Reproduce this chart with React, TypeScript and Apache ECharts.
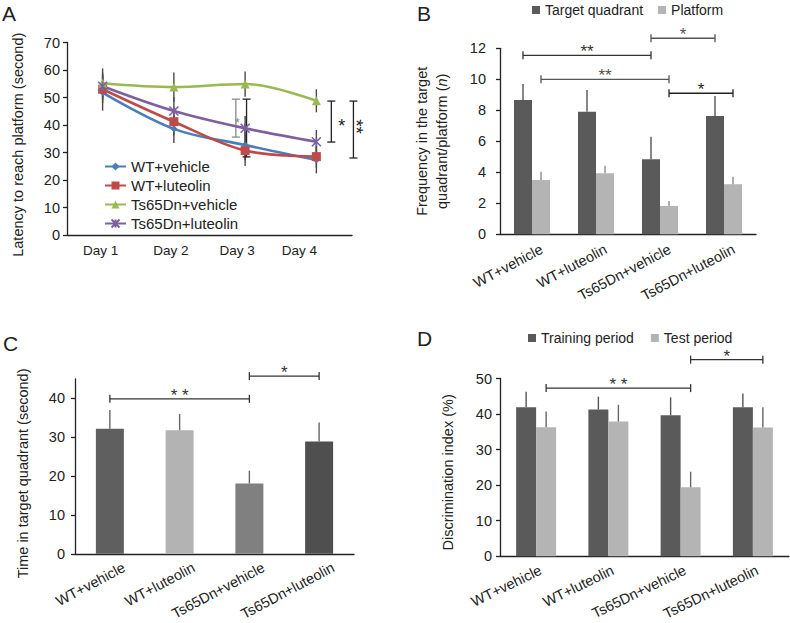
import React, { useEffect, useRef } from "react";
import * as echarts from "echarts";

const FONT = "'Liberation Sans', Arial, Helvetica, sans-serif";
const TXT = "#222";

// ---------- categories ----------
const dayLabels = ["Day 1", "Day 2", "Day 3", "Day 4"];
const groupLabels = ["WT+vehicle", "WT+luteolin", "Ts65Dn+vehicle", "Ts65Dn+luteolin"];

// ---------- Panel A: latency (second) ----------
const latWTVehicle = [51.8, 38.6, 32.7, 27.3];
const latWTLuteolin = [53.0, 41.2, 30.7, 28.5];
const latTsVehicle = [55.2, 53.8, 54.9, 48.8];
const latTsLuteolin = [54.1, 45.1, 38.8, 33.9];
const latErrWTVehicle = [6.6, 5.1, 7.6, 4.9];
const latErrWTLuteolin = [5.0, 5.0, 3.5, 4.0];
const latErrTsVehicle = [5.4, 5.3, 4.6, 4.2];
const latErrTsLuteolin = [5.0, 5.0, 4.5, 4.3];

// ---------- Panel B: frequency ----------
const targetFreq = [8.67, 7.91, 4.84, 7.63];
const targetFreqErr = [1.03, 1.4, 1.46, 1.29];
const platformFreq = [3.51, 3.94, 1.83, 3.23];
const platformFreqErr = [0.53, 0.49, 0.32, 0.49];

// ---------- Panel C: time in target quadrant ----------
const timeTarget = [32.2, 31.8, 18.1, 28.9];
const timeTargetErr = [4.8, 4.2, 3.3, 4.9];
const timeColors = ["#5f5f5f", "#b3b3b3", "#808080", "#4f4f4f"];

// ---------- Panel D: discrimination index ----------
const trainingDI = [41.9, 41.3, 39.7, 41.9];
const trainingDIErr = [4.4, 3.6, 5.0, 3.9];
const testDI = [36.3, 37.9, 19.4, 36.2];
const testDIErr = [4.4, 4.7, 4.4, 5.7];

// ---------- significance annotations ----------
// side: -1 = first bar of the group, +1 = second bar, 0 = group centre
const bracketsB = [
  { from: 0, fromSide: -1, to: 2, toSide: -1, value: 11.55, label: "**", color: "#333" },
  { from: 0, fromSide: 1, to: 2, toSide: 1, value: 10.0, label: "**", color: "#555" },
  { from: 2, fromSide: -1, to: 3, toSide: -1, value: 12.65, label: "*", color: "#555" },
  { from: 2, fromSide: 1, to: 3, toSide: 1, value: 9.1, label: "*", color: "#222" },
];
const bracketsC = [
  { from: 0, fromSide: 0, to: 2, toSide: 0, value: 39.9, label: "* *", color: "#333" },
  { from: 2, fromSide: 0, to: 3, toSide: 0, value: 45.75, label: "*", color: "#333" },
];
const bracketsD = [
  { from: 0, fromSide: 1, to: 2, toSide: 1, value: 47.3, label: "* *", color: "#333" },
  { from: 2, fromSide: 1, to: 3, toSide: 1, value: 55.3, label: "*", color: "#333" },
];
// vertical brackets in panel A (shift = fraction of a category band; stars = number of stacked asterisks)
const bracketsA = [
  { day: 2, shift: -0.13, low: 35.6, high: 49.4, stars: 1, color: "#888" },
  { day: 2, shift: 0.02, low: 28.4, high: 49.4, stars: 0, color: "#222" },
  { day: 3, shift: 0.21, low: 33.8, high: 48.7, stars: 1, color: "#222" },
  { day: 3, shift: 0.52, low: 28.0, high: 48.7, stars: 2, color: "#222" },
];

const axisLineStyle = { color: "#222", width: 1.3 };

function catAxis(gridIndex: number, data: string[], labelExtra: any) {
  return {
    gridIndex,
    type: "category",
    data,
    axisLine: { lineStyle: axisLineStyle },
    axisTick: { length: 4, lineStyle: axisLineStyle },
    axisLabel: { color: TXT, fontSize: 14.5, fontFamily: FONT, interval: 0, ...labelExtra },
    splitLine: { show: false },
  };
}

function valAxis(gridIndex: number, extra: any) {
  return {
    gridIndex,
    type: "value",
    nameLocation: "middle",
    nameRotate: 90,
    axisLine: { show: true, lineStyle: axisLineStyle },
    axisTick: { show: true, length: 4, lineStyle: axisLineStyle },
    splitLine: { show: false },
    ...extra,
    axisLabel: { color: TXT, fontSize: 14.5, fontFamily: FONT, ...(extra.axisLabel || {}) },
    nameTextStyle: { color: TXT, fontSize: 14.5, fontFamily: FONT, ...(extra.nameTextStyle || {}) },
  };
}

function errorSeries(idx: number, means: number[], errs: number[], offset: number, color: string, both: boolean) {
  return {
    type: "custom",
    xAxisIndex: idx,
    yAxisIndex: idx,
    silent: true,
    z: 4,
    data: means.map((m, i) => [i, both ? m - errs[i] : m, m + errs[i]]),
    encode: { x: 0, y: [1, 2] },
    renderItem: (params: any, api: any) => {
      const p1 = api.coord([api.value(0), api.value(1)]);
      const p2 = api.coord([api.value(0), api.value(2)]);
      const x = p1[0] + offset;
      return {
        type: "line",
        shape: { x1: x, y1: p1[1], x2: x, y2: p2[1] },
        style: { stroke: color, lineWidth: 1.4 },
      };
    },
  };
}

function hBracketSeries(idx: number, brackets: any[], half: number) {
  return {
    type: "custom",
    xAxisIndex: idx,
    yAxisIndex: idx,
    silent: true,
    z: 5,
    clip: false,
    data: brackets.map((b) => [b.from, b.value]),
    encode: { x: 0, y: 1 },
    renderItem: (params: any, api: any) => {
      const b = brackets[params.dataIndex];
      const p1 = api.coord([b.from, b.value]);
      const p2 = api.coord([b.to, b.value]);
      const x1 = p1[0] + b.fromSide * half;
      const x2 = p2[0] + b.toSide * half;
      const y = p1[1];
      const st = { stroke: b.color, lineWidth: 1.3 };
      return {
        type: "group",
        children: [
          { type: "line", shape: { x1, y1: y, x2, y2: y }, style: st },
          { type: "line", shape: { x1, y1: y - 4, x2: x1, y2: y + 4 }, style: st },
          { type: "line", shape: { x1: x2, y1: y - 4, x2, y2: y + 4 }, style: st },
          {
            type: "text",
            style: {
              text: b.label,
              x: (x1 + x2) / 2,
              y: y - 3.5,
              align: "center",
              verticalAlign: "middle",
              fontSize: 17,
              fontFamily: FONT,
              fill: b.color,
            },
          },
        ],
      };
    },
  };
}

function vBracketSeries() {
  return {
    type: "custom",
    xAxisIndex: 0,
    yAxisIndex: 0,
    silent: true,
    z: 5,
    clip: false,
    data: bracketsA.map((b) => [b.day, b.low, b.high]),
    encode: { x: 0, y: [1, 2] },
    renderItem: (params: any, api: any) => {
      const b = bracketsA[params.dataIndex];
      const band = api.size([1, 0])[0];
      const p1 = api.coord([b.day, b.low]);
      const p2 = api.coord([b.day, b.high]);
      const x = p1[0] + b.shift * band;
      const st = { stroke: b.color, lineWidth: 1.3 };
      const small = b.color === "#888";
      const children: any[] = [
        { type: "line", shape: { x1: x, y1: p1[1], x2: x, y2: p2[1] }, style: st },
        { type: "line", shape: { x1: x - 4, y1: p1[1], x2: x + 4, y2: p1[1] }, style: st },
        { type: "line", shape: { x1: x - 4, y1: p2[1], x2: x + 4, y2: p2[1] }, style: st },
      ];
      const mid = (p1[1] + p2[1]) / 2;
      if (b.stars === 1) {
        children.push({
          type: "text",
          style: {
            text: "*",
            x: small ? x + 1.5 : x + 7,
            y: mid + 4,
            align: small ? "center" : "left",
            verticalAlign: "middle",
            fontSize: small ? 13 : 18,
            fontFamily: FONT,
            fill: b.color,
          },
        });
      } else if (b.stars === 2) {
        // two asterisks stacked vertically: one text turned a quarter turn
        children.push({
          type: "text",
          x: x + 3,
          y: mid - 3,
          rotation: -Math.PI / 2,
          style: {
            text: "**",
            x: 0,
            y: 0,
            align: "center",
            verticalAlign: "middle",
            fontSize: 19,
            fontFamily: FONT,
            fill: b.color,
          },
        });
      }
      return { type: "group", children };
    },
  };
}

const lineDefs = [
  { name: "WT+vehicle", data: latWTVehicle, err: latErrWTVehicle, color: "#4a7ebb", symbol: "diamond", size: 7 },
  { name: "WT+luteolin", data: latWTLuteolin, err: latErrWTLuteolin, color: "#be4b48", symbol: "rect", size: 9 },
  { name: "Ts65Dn+vehicle", data: latTsVehicle, err: latErrTsVehicle, color: "#98b954", symbol: "triangle", size: 9 },
  {
    name: "Ts65Dn+luteolin",
    data: latTsLuteolin,
    err: latErrTsLuteolin,
    color: "#7d60a0",
    symbol: "path://M0,0L10,10M10,0L0,10M5,0L5,10",
    size: 9,
  },
];

function buildOption(): any {
  const series: any[] = [];

  // Panel A errors then lines
  lineDefs.forEach((d) => series.push(errorSeries(0, d.data, d.err, 0, "#4a4a4a", true)));
  lineDefs.forEach((d) =>
    series.push({
      type: "line",
      name: d.name,
      xAxisIndex: 0,
      yAxisIndex: 0,
      data: d.data,
      smooth: 0.35,
      symbol: d.symbol,
      symbolSize: d.size,
      z: 6,
      lineStyle: { color: d.color, width: 2.6 },
      itemStyle: { color: d.color, borderColor: d.color, borderWidth: d.symbol.startsWith("path") ? 1.6 : 0 },
    })
  );
  series.push(vBracketSeries());

  // Panel B
  series.push({
    type: "bar",
    name: "Target quadrant",
    xAxisIndex: 1,
    yAxisIndex: 1,
    data: targetFreq,
    barWidth: 18,
    barGap: "0%",
    itemStyle: { color: "#5a5a5a" },
  });
  series.push({
    type: "bar",
    name: "Platform",
    xAxisIndex: 1,
    yAxisIndex: 1,
    data: platformFreq,
    barWidth: 18,
    barGap: "0%",
    itemStyle: { color: "#b4b4b4" },
  });
  series.push(errorSeries(1, targetFreq, targetFreqErr, -9, "#555", false));
  series.push(errorSeries(1, platformFreq, platformFreqErr, 9, "#8a8a8a", false));
  series.push(hBracketSeries(1, bracketsB, 9));

  // Panel C
  series.push({
    type: "bar",
    name: "Time in target quadrant",
    xAxisIndex: 2,
    yAxisIndex: 2,
    data: timeTarget.map((v, i) => ({ value: v, itemStyle: { color: timeColors[i] } })),
    barWidth: 28,
  });
  series.push(errorSeries(2, timeTarget, timeTargetErr, 0, "#666", false));
  series.push(hBracketSeries(2, bracketsC, 0));

  // Panel D
  series.push({
    type: "bar",
    name: "Training period",
    xAxisIndex: 3,
    yAxisIndex: 3,
    data: trainingDI,
    barWidth: 20,
    barGap: "0%",
    itemStyle: { color: "#5a5a5a" },
  });
  series.push({
    type: "bar",
    name: "Test period",
    xAxisIndex: 3,
    yAxisIndex: 3,
    data: testDI,
    barWidth: 20,
    barGap: "0%",
    itemStyle: { color: "#b4b4b4" },
  });
  series.push(errorSeries(3, trainingDI, trainingDIErr, -10, "#555", false));
  series.push(errorSeries(3, testDI, testDIErr, 10, "#666", false));
  series.push(hBracketSeries(3, bracketsD, 10));

  const dayRich: any = {};
  [4, 6, 16, 34].forEach((p, i) => {
    dayRich["d" + i] = { fontSize: 13.5, fontFamily: FONT, color: TXT, padding: [0, p, 0, 0] };
  });

  return {
    animation: false,
    textStyle: { fontFamily: FONT },
    grid: [
      { left: 67, top: 42.5, width: 285, height: 192.5 },
      { left: 500, top: 48.3, width: 256, height: 186 },
      { left: 75, top: 379, width: 279, height: 180 },
      { left: 500, top: 378.5, width: 289, height: 177.8 },
    ],
    xAxis: [
      catAxis(0, dayLabels, {
        margin: 8,
        fontSize: 13.5,
        formatter: (v: string, i: number) => `{d${i}|${v}}`,
        rich: dayRich,
      }),
      catAxis(1, groupLabels, { rotate: 28, margin: 19, padding: [0, -11, 0, 0] }),
      catAxis(2, groupLabels, { rotate: 28, margin: 20, padding: [0, -16, 0, 0] }),
      catAxis(3, groupLabels, { rotate: 26, margin: 15, padding: [0, -5, 0, 0] }),
    ],
    yAxis: [
      valAxis(0, {
        min: 0,
        max: 70,
        interval: 10,
        name: "Latency to reach platform (second)",
        nameGap: 42,
        axisLabel: { margin: 7 },
        nameTextStyle: { padding: [0, 12, 0, 0] },
      }),
      valAxis(1, {
        min: 0,
        max: 12,
        interval: 2,
        name: "Frequency in the target\nquadrant/platform ({i|n})",
        nameGap: 48,
        axisLabel: { margin: 14 },
        nameTextStyle: {
          lineHeight: 20,
          rich: { i: { fontStyle: "italic", fontSize: 14.5, fontFamily: FONT, color: TXT, lineHeight: 20 } },
        },
      }),
      valAxis(2, {
        min: 0,
        max: 45,
        name: "Time in target quadrant (second)",
        nameGap: 45,
        axisLabel: { margin: 10, customValues: [0, 10, 20, 30, 40] },
        axisTick: { show: true, length: 4, lineStyle: axisLineStyle, customValues: [0, 10, 20, 30, 40] },
        nameTextStyle: { padding: [0, 14, 0, 0] },
      }),
      valAxis(3, {
        min: 0,
        max: 50,
        interval: 10,
        name: "Discrimination index (%)",
        nameGap: 45,
        axisLabel: { margin: 8 },
        nameTextStyle: { padding: [0, 10, 0, 0] },
      }),
    ],
    legend: [
      {
        data: lineDefs.map((d) => d.name),
        orient: "vertical",
        left: 99,
        top: 154,
        itemWidth: 21,
        itemHeight: 10,
        itemGap: 4,
        textStyle: { fontSize: 15, color: TXT, fontFamily: FONT },
        selectedMode: false,
      },
      {
        data: ["Target quadrant", "Platform"],
        left: 527,
        top: -2,
        icon: "rect",
        itemWidth: 8,
        itemHeight: 8,
        itemGap: 15,
        textStyle: { fontSize: 14, color: TXT, fontFamily: FONT },
        selectedMode: false,
      },
      {
        data: ["Training period", "Test period"],
        left: 523,
        top: 326,
        icon: "rect",
        itemWidth: 8,
        itemHeight: 8,
        itemGap: 17,
        textStyle: { fontSize: 14, color: TXT, fontFamily: FONT },
        selectedMode: false,
      },
    ],
    graphic: [
      { type: "text", left: 2, top: 3, style: { text: "A", fontSize: 21, fontFamily: FONT, fill: TXT } },
      { type: "text", left: 417, top: 3, style: { text: "B", fontSize: 21, fontFamily: FONT, fill: TXT } },
      { type: "text", left: 3, top: 333, style: { text: "C", fontSize: 21, fontFamily: FONT, fill: TXT } },
      { type: "text", left: 417, top: 328, style: { text: "D", fontSize: 21, fontFamily: FONT, fill: TXT } },
    ],
    series,
  };
}

export default function App() {
  const ref = useRef<HTMLDivElement>(null);
  useEffect(() => {
    if (!ref.current) return;
    const chart = echarts.init(ref.current, undefined, { renderer: "svg" });
    chart.setOption(buildOption());
    return () => chart.dispose();
  }, []);
  return (
    <div
      ref={ref}
      style={{ position: "fixed", left: 0, top: 0, width: 790, height: 623, background: "#fff" }}
    />
  );
}
